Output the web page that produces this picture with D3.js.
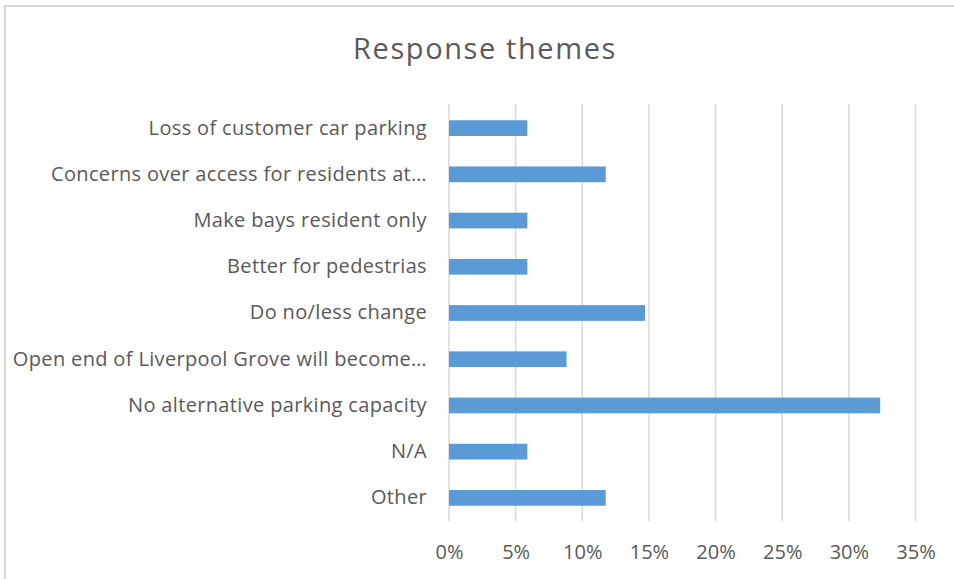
<!DOCTYPE html>
<html><head><meta charset="utf-8">
<script src="https://cdn.jsdelivr.net/npm/d3@7"></script>
<style>
body{margin:0;background:#fff;}
svg{display:block;font-family:"Open Sans",sans-serif;}
</style></head>
<body><svg id="chart" width="954" height="579"></svg>
<script>
const title = "Response themes";
const categories = [
  "Loss of customer car parking",
  "Concerns over access for residents at…",
  "Make bays resident only",
  "Better for pedestrias",
  "Do no/less change",
  "Open end of Liverpool Grove will become…",
  "No alternative parking capacity",
  "N/A",
  "Other"
];
const values = [0.0588, 0.1176, 0.0588, 0.0588, 0.1471, 0.0882, 0.3235, 0.0588, 0.1176];
const ticks = [0, 0.05, 0.10, 0.15, 0.20, 0.25, 0.30, 0.35];

const svg = d3.select("#chart");
// chart border
svg.append("path").attr("d","M5,579 V6 H954").attr("fill","none").attr("stroke","#d9d9d9").attr("stroke-width",2);

svg.append("text").attr("x",485).attr("y",59).attr("text-anchor","middle")
  .attr("font-size",29).attr("letter-spacing",1.6).attr("fill","#595959").text(title);

const x = d3.scaleLinear().domain([0,0.35]).range([449,915.5]);
const y = d3.scaleBand().domain(categories).range([105,521]).paddingInner(0.66).paddingOuter(0.33);

const grid = svg.append("g");
grid.selectAll("line").data(ticks).join("line")
  .attr("x1",d=>x(d)).attr("x2",d=>x(d)).attr("y1",104).attr("y2",521)
  .attr("stroke","#d9d9d9").attr("stroke-width",1.5);

svg.append("g").selectAll("rect").data(values).join("rect")
  .attr("x",x(0)).attr("y",(d,i)=>y(categories[i]))
  .attr("width",d=>x(d)-x(0)).attr("height",y.bandwidth())
  .attr("fill","#5b9bd5");

const xAxis = svg.append("g").attr("transform","translate(0,521)")
  .call(d3.axisBottom(x).tickValues(ticks).tickFormat(d3.format(".0%")).tickSize(0).tickPadding(24));
xAxis.select(".domain").remove();
xAxis.selectAll("text").attr("font-size",20).attr("fill","#595959").attr("font-family","Open Sans, sans-serif");

const yAxis = svg.append("g").attr("transform","translate(449,0)")
  .call(d3.axisLeft(y).tickSize(0).tickPadding(22));
yAxis.select(".domain").remove();
yAxis.selectAll("text").attr("font-size",20).attr("letter-spacing",0.35).attr("fill","#595959").attr("font-family","Open Sans, sans-serif");
</script></body></html>
